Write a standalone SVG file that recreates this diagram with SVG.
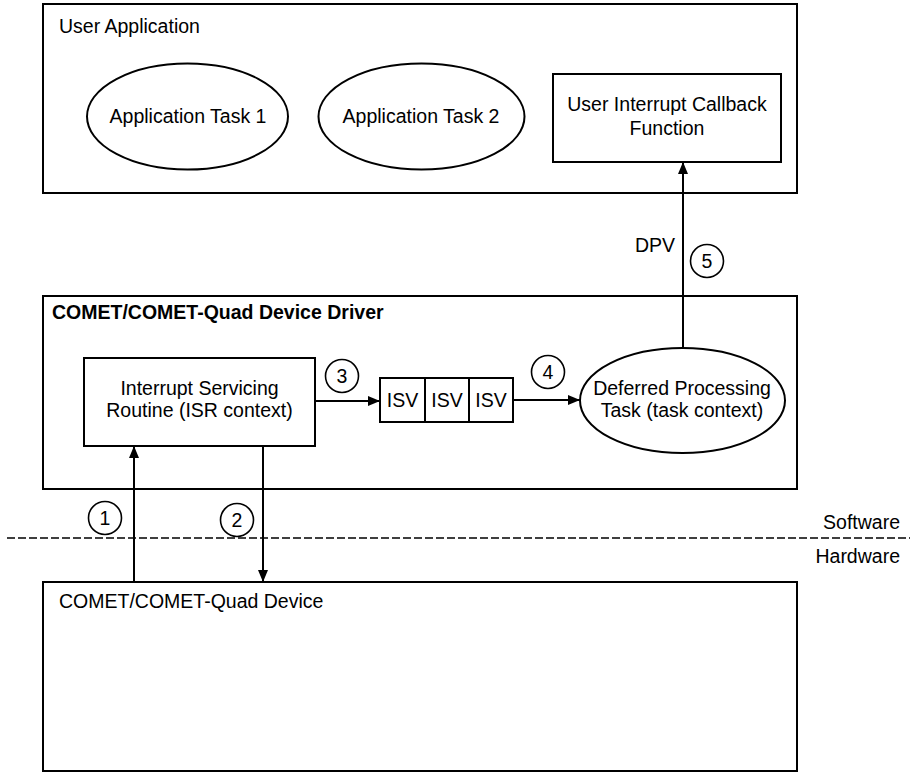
<svg xmlns="http://www.w3.org/2000/svg" width="910" height="773" viewBox="0 0 910 773">
<style>
.box{fill:none;stroke:#000;stroke-width:2}
.shape{fill:#fff;stroke:#000;stroke-width:2}
.t{font-family:"Liberation Sans",Arial,sans-serif;font-size:19.5px;fill:#000}
.c{text-anchor:middle}
.b{font-weight:bold}
.conn{stroke:#000;stroke-width:2;fill:none}
.num{fill:#fff;stroke:#000;stroke-width:1.6}
</style>
<defs>
<marker id="ah" markerUnits="userSpaceOnUse" markerWidth="13" markerHeight="11" refX="12" refY="5" orient="auto">
<path d="M0,0 L12,5 L0,10 z" fill="#000"/>
</marker>
</defs>
<rect width="910" height="773" fill="#fff"/>
<g id="user-application">
<rect class="box" x="43" y="4" width="754" height="189"/>
<text class="t" x="59" y="33">User Application</text>
</g>
<g id="app-task-1">
<ellipse class="shape" cx="187.5" cy="116.5" rx="100.5" ry="53"/>
<text class="t c" x="188" y="123">Application Task 1</text>
</g>
<g id="app-task-2">
<ellipse class="shape" cx="421.5" cy="116.5" rx="103" ry="53"/>
<text class="t c" x="421" y="123">Application Task 2</text>
</g>
<g id="callback">
<rect class="shape" x="553" y="74" width="228" height="88"/>
<text class="t c" x="667" y="111">User Interrupt Callback</text>
<text class="t c" x="667" y="135">Function</text>
</g>
<g id="driver">
<rect class="box" x="43" y="296" width="754" height="193"/>
<text class="t b" x="52" y="319">COMET/COMET-Quad Device Driver</text>
</g>
<g id="isr">
<rect class="shape" x="84" y="358" width="231" height="88"/>
<text class="t c" x="199.5" y="395">Interrupt Servicing</text>
<text class="t c" x="199.5" y="417">Routine (ISR context)</text>
</g>
<g id="isv-queue">
<rect class="shape" x="380" y="378" width="133" height="44"/>
<line class="conn" x1="425" y1="378" x2="425" y2="422"/>
<line class="conn" x1="469" y1="378" x2="469" y2="422"/>
<text class="t c" x="402.5" y="407">ISV</text>
<text class="t c" x="447" y="407">ISV</text>
<text class="t c" x="491" y="407">ISV</text>
</g>
<g id="deferred">
<ellipse class="shape" cx="682.5" cy="400.5" rx="102.5" ry="52.5"/>
<text class="t c" x="682" y="395">Deferred Processing</text>
<text class="t c" x="682" y="417">Task (task context)</text>
</g>
<g id="device">
<rect class="box" x="43" y="582" width="754" height="189"/>
<text class="t" x="59" y="608">COMET/COMET-Quad Device</text>
</g>
<g id="boundary">
<line x1="7" y1="538" x2="910" y2="538" stroke="#000" stroke-width="1.5" stroke-dasharray="8 3"/>
<text class="t" x="900" y="529" text-anchor="end">Software</text>
<text class="t" x="900" y="563" text-anchor="end">Hardware</text>
</g>
<g id="connectors">
<line class="conn" x1="134" y1="582" x2="134" y2="446" marker-end="url(#ah)"/>
<line class="conn" x1="263" y1="446" x2="263" y2="582" marker-end="url(#ah)"/>
<line class="conn" x1="315" y1="401" x2="380" y2="401" marker-end="url(#ah)"/>
<line class="conn" x1="513" y1="400" x2="580" y2="400" marker-end="url(#ah)"/>
<line class="conn" x1="683" y1="348" x2="683" y2="162" marker-end="url(#ah)"/>
<text class="t" x="635" y="252">DPV</text>
</g>
<g id="step-labels">
<circle class="num" cx="105" cy="518" r="16.5"/>
<text class="t c" x="105" y="525">1</text>
<circle class="num" cx="237" cy="520" r="16.5"/>
<text class="t c" x="237" y="527">2</text>
<circle class="num" cx="342" cy="376" r="16.5"/>
<text class="t c" x="342" y="383">3</text>
<circle class="num" cx="548" cy="372" r="16.5"/>
<text class="t c" x="548" y="379">4</text>
<circle class="num" cx="707" cy="261" r="16.5"/>
<text class="t c" x="707" y="268">5</text>
</g>
</svg>
